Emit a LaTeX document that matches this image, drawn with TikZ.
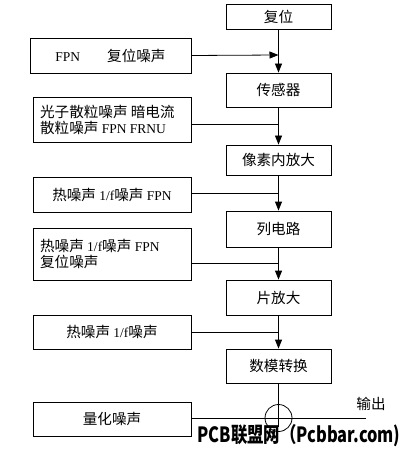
\documentclass[tikz,border=0pt]{standalone}
\usepackage{fontspec}
\setmainfont{Liberation Serif}
\newfontfamily\cjk[Scale=1.08]{Noto Sans CJK SC}
\newfontfamily\wmfont{Noto Sans CJK SC}
\usetikzlibrary{arrows.meta,calc}
\newcommand{\zh}[1]{{\cjk #1}}
\begin{document}
\begin{tikzpicture}[x=1pt,y=-1pt,
  box/.style={draw,line width=0.8pt,inner sep=0pt},
  lbl/.style={font=\fontsize{13.5}{18}\selectfont,align=left},
  ln/.style={line width=0.8pt},
  arr/.style={line width=0.8pt,-{Triangle[length=9pt,width=7pt]}}]
\useasboundingbox (0,0) rectangle (401,449);
% main chain
\node[box,minimum width=105pt,minimum height=25pt] (reset) at (278.5,16.5) {};
\node[lbl] at (reset) {\zh{复位}};
\node[box,minimum width=105pt,minimum height=34pt] (sensor) at (278.5,90) {};
\node[lbl] at (sensor) {\zh{传感器}};
\node[box,minimum width=105pt,minimum height=30pt] (pix) at (278.5,160) {};
\node[lbl] at (pix) {\zh{像素内放大}};
\node[box,minimum width=105pt,minimum height=36pt] (col) at (278.5,229) {};
\node[lbl] at (col) {\zh{列电路}};
\node[box,minimum width=105pt,minimum height=35pt] (chip) at (278.5,297.5) {};
\node[lbl] at (chip) {\zh{片放大}};
\node[box,minimum width=105pt,minimum height=34pt] (adc) at (278.5,366) {};
\node[lbl] at (adc) {\zh{数模转换}};
% noise boxes
\node[box,minimum width=161pt,minimum height=35pt] (n1) at (110.5,55.5) {};
\node[lbl] at (n1) {FPN\hspace{2em}\zh{复位噪声}};
\node[box,minimum width=158pt,minimum height=45pt] (n2) at (112,119.5) {};
\node[lbl,anchor=west] at ($(n2.west)+(4,0)$) {\zh{光子散粒噪声\ 暗电流}\\[-2pt]\zh{散粒噪声}\ FPN\ FRNU};
\node[box,minimum width=158pt,minimum height=35pt] (n3) at (112,194.5) {};
\node[lbl] at (n3) {\zh{热噪声}\ 1/f\zh{噪声}\ FPN};
\node[box,minimum width=158pt,minimum height=52pt] (n4) at (112,254) {};
\node[lbl,anchor=west] at ($(n4.west)+(4,0)$) {\zh{热噪声}\ 1/f\zh{噪声}\ FPN\\[-2pt]\zh{复位噪声}};
\node[box,minimum width=158pt,minimum height=34pt] (n5) at (112,332) {};
\node[lbl] at (n5) {\zh{热噪声}\ 1/f\zh{噪声}};
\node[box,minimum width=158pt,minimum height=34pt] (n6) at (112,419) {};
\node[lbl] at (n6) {\zh{量化噪声}};
% junction points
\coordinate (j1) at (278.5,55);
\coordinate (j2) at (278.5,124);
\coordinate (j3) at (278.5,193);
\coordinate (j4) at (278.5,263);
\coordinate (j5) at (278.5,332);
\coordinate (j6) at (278.5,418);
\coordinate (out) at (366,418);
\coordinate (vend) at (278.5,427);
% connectors
\draw[arr] (reset.south) -- (sensor.north);
\draw[arr] (n1.east) -- (j1);
\draw[arr] (sensor.south) -- (pix.north);
\draw[ln] (n2.east |- j2) -- (j2);
\draw[arr] (pix.south) -- (col.north);
\draw[ln] (n3.east |- j3) -- (j3);
\draw[arr] (col.south) -- (chip.north);
\draw[ln] (n4.east |- j4) -- (j4);
\draw[arr] (chip.south) -- (adc.north);
\draw[ln] (n5.east |- j5) -- (j5);
\node[draw,circle,line width=0.8pt,minimum size=27pt,inner sep=0pt] (sum) at (j6) {};
\draw[ln] (adc.south) -- (vend);
\draw[ln] (n6.east |- j6) -- (out);
\node[lbl,anchor=south] at (371,414) {\zh{输出}};
% watermark
\node[anchor=center,xscale=0.82,yscale=1.05,font=\fontsize{20}{21}\selectfont\bfseries\wmfont] (wm) at (299,436) {PCB联盟网（Pcbbar.com)};
\end{tikzpicture}
\end{document}
